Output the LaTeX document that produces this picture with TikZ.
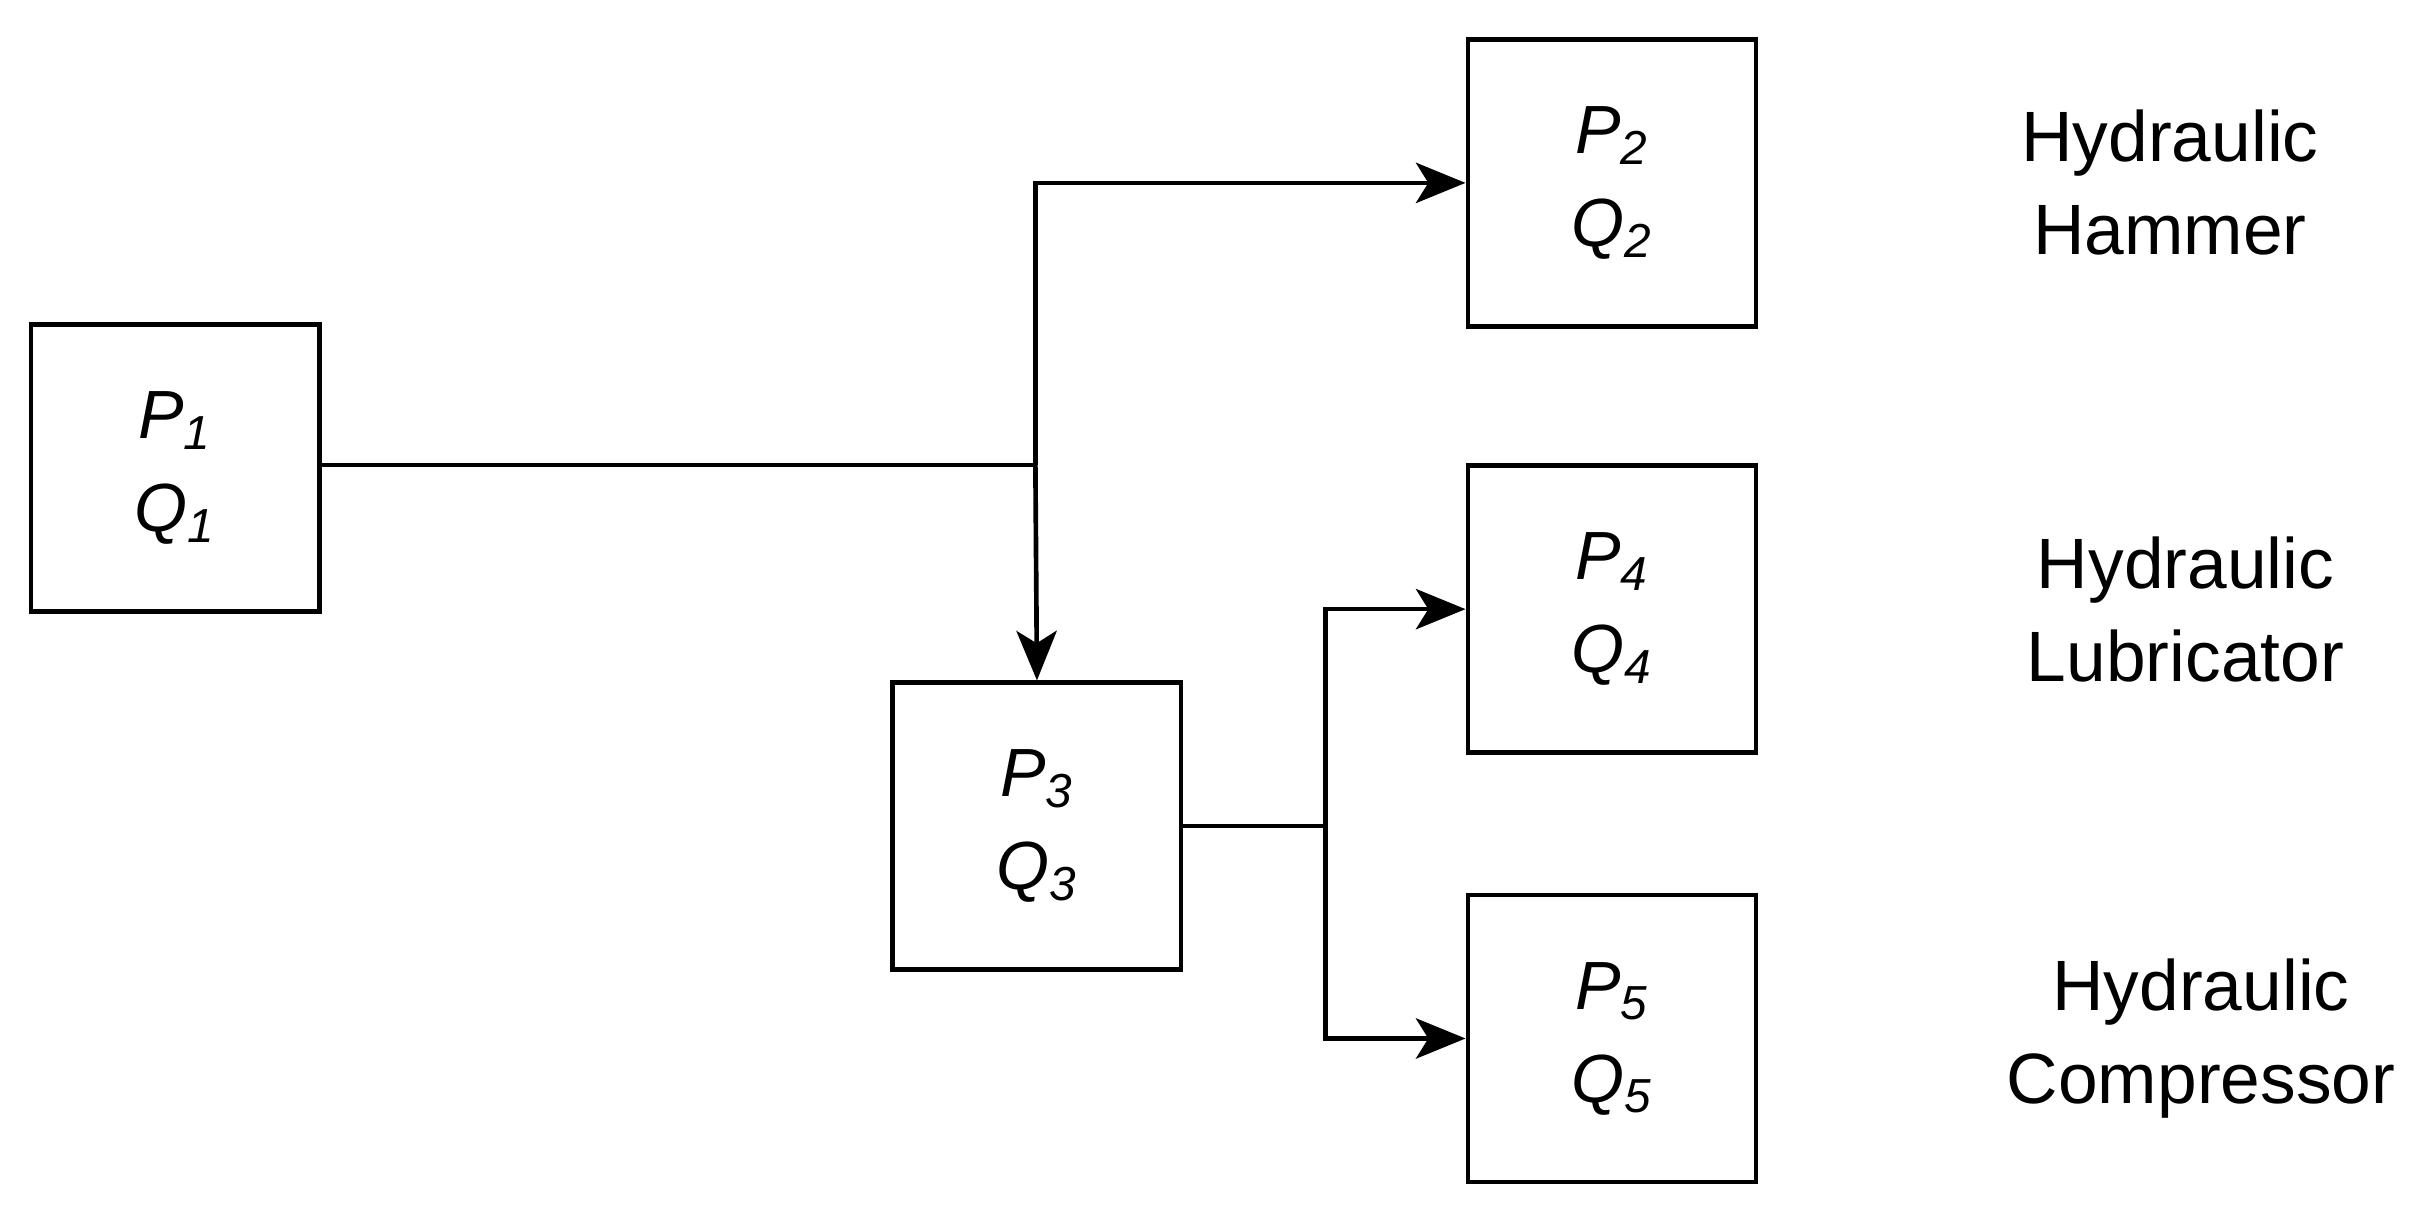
\documentclass[tikz,border=0pt]{standalone}
\usepackage{fontspec}
\setmainfont{Liberation Sans}
\usetikzlibrary{arrows.meta}
\begin{document}
\begin{tikzpicture}[x=0.5pt,y=-0.5pt,
  box/.style={draw,line width=1.5pt,minimum width=93pt,minimum height=92.5pt,inner sep=0pt,align=center,font=\fontsize{22}{30}\selectfont\itshape},
  lab/.style={align=center,font=\fontsize{23}{30}\selectfont},
  ln/.style={line width=1.5pt},
  arr/.style={ln,-{Stealth[length=16pt,width=13pt,inset=4pt]}}]
\useasboundingbox (0,0) rectangle (1560,780);
\node[box] (p1) at (113,302) {P\textsubscript{1}\\Q\textsubscript{1}};
\node[box] (p2) at (1040,118) {P\textsubscript{2}\\Q\textsubscript{2}};
\node[box] (p3) at (669,533) {P\textsubscript{3}\\Q\textsubscript{3}};
\node[box] (p4) at (1040,393) {P\textsubscript{4}\\Q\textsubscript{4}};
\node[box] (p5) at (1040,670) {P\textsubscript{5}\\Q\textsubscript{5}};
\node[lab] (l2) at (1400,118) {Hydraulic\\Hammer};
\node[lab] (l4) at (1410,393) {Hydraulic\\Lubricator};
\node[lab] (l5) at (1420,670) {Hydraulic\\Compressor};
\coordinate (j1) at (668,300);
\coordinate (j2) at (855,533);
\draw[ln] (p1.east |- j1) -- (j1);
\draw[arr] (j1) -- (p3.north);
\draw[arr] (j1) |- (p2.west);
\draw[ln] (p3.east) -- (j2);
\draw[arr] (j2) |- (p4.west);
\draw[arr] (j2) |- (p5.west);
\end{tikzpicture}
\end{document}
